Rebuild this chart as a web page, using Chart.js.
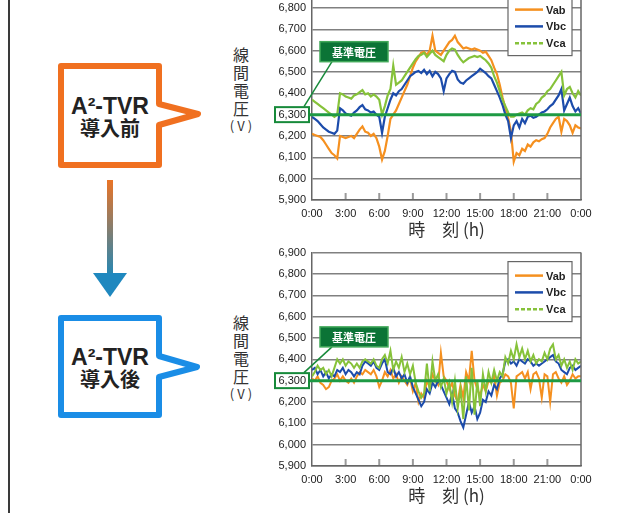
<!DOCTYPE html>
<html lang="ja">
<head>
<meta charset="utf-8">
<script src="https://cdn.jsdelivr.net/npm/chart.js@4.4.0/dist/chart.umd.min.js"></script>
<style>
  html, body { margin: 0; padding: 0; background: #fff; }
  body { width: 622px; height: 513px; position: relative; overflow: hidden; font-family: "Noto Sans CJK JP", sans-serif; }
  .frame { position: absolute; left: 8px; top: 0; width: 2px; height: 513px; background: #3a3a3a; }
  .chartBox { position: absolute; left: 260px; width: 340px; height: 266px; }
  .ylab { position: absolute; left: 226px; width: 30px; text-align: center; font-size: 16px; line-height: 18px; color: #333; }
  .ylab .unit { font-size: 13px; display: block; margin-left: -8px; width: 46px; letter-spacing: 3px; text-indent: 3px; }
  .badge { position: absolute; left: 58px; width: 104px; text-align: center; font-weight: bold; color: #222; white-space: nowrap; }
  .badge.en { font-family: "Liberation Sans", Arial, sans-serif; font-size: 23px; line-height: 24px; }
  .badge.jp { font-size: 20px; line-height: 22px; }
</style>
</head>
<body>
<div class="frame"></div>

<svg width="230" height="513" style="position:absolute;left:0;top:0">
  <defs>
    <linearGradient id="shaft" x1="0" y1="0" x2="0" y2="1">
      <stop offset="0" stop-color="#ea7426"/>
      <stop offset="1" stop-color="#2387b6"/>
    </linearGradient>
  </defs>
  <path d="M61,66 H159 V104 L198,114 L159,125 V165 H61 Z" fill="#fff" stroke="#f07020" stroke-width="6" stroke-linejoin="round"/>
  <rect x="107" y="180" width="6" height="96" fill="url(#shaft)"/>
  <path d="M93,273 L127,273 L110,297 Z" fill="#1f88bf"/>
  <path d="M61,318 H159 V356 L197,367 L159,377 V415 H61 Z" fill="#fff" stroke="#1a8de6" stroke-width="6" stroke-linejoin="round"/>
</svg>

<div class="badge en" style="top:94px">A²-TVR</div>
<div class="badge jp" style="top:117px">導入前</div>
<div class="badge en" style="top:345px">A²-TVR</div>
<div class="badge jp" style="top:368px">導入後</div>

<div class="ylab" style="top:45px">線<br>間<br>電<br>圧<span class="unit">(V)</span></div>
<div class="ylab" style="top:313px">線<br>間<br>電<br>圧<span class="unit">(V)</span></div>

<div class="chartBox" style="top:-26px"><canvas id="before"></canvas></div>
<div class="chartBox" style="top:240px"><canvas id="after"></canvas></div>

<script>
// time of day in hours, one sample per 15 minutes
const hours = [0,0.25,0.5,0.75,1,1.25,1.5,1.75,2,2.25,2.5,2.75,3,3.25,3.5,3.75,
  4,4.25,4.5,4.75,5,5.25,5.5,5.75,6,6.25,6.5,6.75,7,7.25,7.5,7.75,
  8,8.25,8.5,8.75,9,9.25,9.5,9.75,10,10.25,10.5,10.75,11,11.25,11.5,11.75,
  12,12.25,12.5,12.75,13,13.25,13.5,13.75,14,14.25,14.5,14.75,15,15.25,15.5,15.75,
  16,16.25,16.5,16.75,17,17.25,17.5,17.75,18,18.25,18.5,18.75,19,19.25,19.5,19.75,
  20,20.25,20.5,20.75,21,21.25,21.5,21.75,22,22.25,22.5,22.75,23,23.25,23.5,23.75,24];
const timeLabels = ["0:00","3:00","6:00","9:00","12:00","15:00","18:00","21:00","0:00"];
const seriesNames = ["Vab", "Vbc", "Vca"];
const baseVoltage = 6300;

// before A2-TVR
const beforeVab = [6210,6205,6200,6195,6180,6160,6140,6120,
  6110,6095,6200,6195,6190,6195,6200,6190,
  6210,6230,6245,6220,6215,6200,6210,6190,
  6150,6090,6130,6200,6280,6300,6320,6350,
  6380,6410,6440,6480,6520,6550,6570,6590,
  6595,6580,6600,6670,6600,6590,6580,6600,
  6620,6640,6650,6670,6640,6625,6610,6615,
  6610,6605,6610,6605,6600,6590,6595,6575,
  6555,6520,6490,6440,6380,6330,6285,6220,
  6080,6120,6110,6140,6130,6160,6150,6170,
  6180,6175,6185,6190,6210,6240,6260,6280,
  6290,6220,6280,6270,6250,6215,6250,6240,6235];
const beforeVbc = [6290,6280,6270,6255,6240,6230,6220,6215,
  6210,6225,6330,6320,6305,6300,6295,6310,
  6320,6335,6345,6325,6320,6310,6315,6300,
  6290,6215,6290,6330,6370,6400,6390,6410,
  6420,6440,6460,6480,6490,6500,6505,6495,
  6510,6490,6505,6480,6500,6490,6470,6410,
  6470,6490,6505,6500,6465,6450,6445,6460,
  6470,6480,6490,6500,6515,6505,6495,6480,
  6470,6440,6410,6380,6345,6300,6270,6190,
  6250,6270,6240,6280,6260,6290,6295,6285,
  6290,6300,6310,6315,6325,6340,6350,6370,
  6390,6420,6320,6350,6380,6340,6315,6330,6305];
const beforeVca = [6370,6360,6350,6340,6330,6320,6310,6300,
  6290,6300,6400,6395,6385,6380,6375,6390,
  6395,6405,6415,6395,6400,6385,6395,6385,
  6370,6300,6340,6390,6420,6530,6440,6450,
  6460,6480,6500,6520,6540,6560,6575,6580,
  6590,6570,6585,6600,6580,6570,6560,6550,
  6580,6600,6610,6605,6580,6560,6545,6555,
  6565,6570,6575,6570,6575,6565,6555,6540,
  6520,6480,6450,6410,6370,6340,6310,6290,
  6290,6300,6305,6310,6300,6320,6330,6325,
  6350,6360,6380,6390,6410,6420,6440,6460,
  6480,6500,6390,6420,6430,6400,6380,6410,6390];

// after A2-TVR
const afterVab = [6310,6300,6320,6290,6280,6260,6270,6300,
  6310,6330,6300,6320,6300,6290,6310,6290,
  6320,6340,6330,6350,6340,6330,6350,6320,
  6270,6300,6340,6320,6350,6310,6330,6290,
  6320,6300,6280,6310,6250,6290,6200,6240,
  6220,6300,6270,6330,6300,6280,6430,6320,
  6300,6260,6290,6230,6200,6280,6220,6340,
  6300,6440,6300,6260,6230,6280,6250,6300,
  6290,6320,6230,6290,6300,6330,6320,6290,
  6170,6320,6330,6340,6310,6340,6260,6330,
  6340,6310,6220,6330,6320,6200,6330,6340,
  6310,6290,6320,6280,6300,6330,6310,6320,6320];
const afterVbc = [6350,6360,6330,6350,6320,6340,6310,6330,
  6320,6350,6340,6360,6330,6350,6340,6320,
  6340,6330,6370,6390,6380,6370,6390,6360,
  6350,6380,6400,6340,6330,6360,6320,6340,
  6310,6330,6290,6320,6270,6240,6210,6180,
  6200,6260,6240,6290,6270,6300,6280,6250,
  6220,6190,6240,6170,6150,6110,6080,6140,
  6200,6150,6180,6120,6150,6210,6200,6250,
  6230,6280,6260,6310,6330,6390,6400,6380,
  6390,6370,6400,6390,6380,6400,6390,6370,
  6380,6370,6380,6390,6400,6410,6420,6390,
  6380,6350,6340,6330,6360,6370,6350,6360,6370];
const afterVca = [6320,6340,6370,6350,6360,6330,6350,6320,
  6360,6400,6380,6400,6370,6390,6380,6360,
  6380,6360,6390,6400,6390,6380,6400,6370,
  6360,6400,6420,6380,6440,6350,6390,6360,
  6410,6340,6380,6330,6370,6290,6250,6220,
  6240,6380,6250,6390,6300,6330,6270,6310,
  6240,6290,6200,6300,6170,6260,6120,6320,
  6160,6360,6140,6300,6180,6330,6250,6340,
  6290,6350,6300,6340,6320,6410,6380,6440,
  6400,6470,6410,6450,6400,6440,6390,6420,
  6380,6400,6390,6430,6400,6450,6470,6400,
  6420,6370,6400,6360,6390,6350,6400,6380,6390];

const colors = ["#f5901f", "#1c4cab", "#86c23a"];

Chart.defaults.font.family = '"Liberation Sans", Arial, sans-serif';
Chart.defaults.color = "#222";

const decor = {
    id: "decor",
    afterDatasetsDraw(chart, args, opts) {
        const { ctx, chartArea: a, scales: { x, y } } = chart;
        ctx.save();
        // right frame
        ctx.strokeStyle = "#666";
        ctx.lineWidth = 1.5;
        ctx.beginPath();
        ctx.moveTo(a.right, a.top);
        ctx.lineTo(a.right, a.bottom);
        ctx.stroke();
        // little marks above the time axis
        ctx.strokeStyle = "#9a9a9a";
        ctx.lineWidth = 2;
        for (let h = 3; h < 24; h += 3) {
            const px = x.getPixelForValue(h);
            ctx.beginPath();
            ctx.moveTo(px, a.bottom - 7);
            ctx.lineTo(px, a.bottom - 1);
            ctx.stroke();
        }
        // base voltage line + boxed tick
        const yb = y.getPixelForValue(baseVoltage);
        ctx.strokeStyle = "#1e9a44";
        ctx.lineWidth = 3;
        ctx.beginPath();
        ctx.moveTo(a.left - 3, yb);
        ctx.lineTo(a.right, yb);
        ctx.stroke();
        ctx.strokeStyle = "#178a3a";
        ctx.lineWidth = 2;
        ctx.strokeRect(a.left - 37, yb - 7.5, 34, 15);
        // label box
        const yc = y.getPixelForValue(opts.boxAt);
        ctx.beginPath();
        ctx.moveTo(a.left + 20, yc + 10);
        ctx.lineTo(a.left - 8, yb - 8);
        ctx.lineWidth = 1.5;
        ctx.stroke();
        ctx.fillStyle = "#0b7436";
        ctx.fillRect(a.left + 8, yc - 10, 68, 20);
        ctx.strokeStyle = "#42a95a";
        ctx.lineWidth = 1.5;
        ctx.strokeRect(a.left + 8, yc - 10, 68, 20);
        ctx.fillStyle = "#fff";
        ctx.font = 'bold 11px "Noto Sans CJK JP"';
        ctx.textAlign = "center";
        ctx.textBaseline = "middle";
        ctx.fillText("基準電圧", a.left + 42, yc + 1);
        // legend
        const lx = a.right - 73;
        ctx.fillStyle = "#fff";
        ctx.fillRect(lx, a.top + 9, 64, 60);
        ctx.strokeStyle = "#666";
        ctx.lineWidth = 1.2;
        ctx.strokeRect(lx, a.top + 9, 64, 60);
        chart.data.datasets.forEach((ds, i) => {
            const ly = a.top + 23 + i * 16.8;
            ctx.strokeStyle = ds.borderColor;
            ctx.lineWidth = 2.5;
            ctx.setLineDash(i === 2 ? [4, 2] : []);
            ctx.beginPath();
            ctx.moveTo(lx + 7, ly);
            ctx.lineTo(lx + 35, ly);
            ctx.stroke();
            ctx.setLineDash([]);
            ctx.fillStyle = "#222";
            ctx.font = 'bold 11px "Liberation Sans", Arial, sans-serif';
            ctx.textAlign = "left";
            ctx.fillText(ds.label, lx + 38, ly + 1);
        });
        ctx.restore();
    },
};

function makeChart(id, series, boxAt, width) {
    const ctx = document.getElementById(id).getContext("2d");
    return new Chart(ctx, {
        type: "line",
        data: {
            datasets: series.map((vals, i) => ({
                label: seriesNames[i],
                data: hours.map((h, k) => ({ x: h, y: vals[k] })),
                borderColor: colors[i],
                borderWidth: width,
                pointRadius: 0,
                tension: 0,
                order: 3 - i,
            })),
        },
        options: {
            responsive: true,
            maintainAspectRatio: false,
            animation: false,
            layout: { padding: { top: 10, right: 19, left: 0, bottom: 0 } },
            plugins: {
                legend: { display: false },
                tooltip: { enabled: false },
                decor: { boxAt: boxAt },
            },
            scales: {
                x: {
                    type: "linear",
                    min: 0,
                    max: 24,
                    afterFit: (s) => { s.height = 40; },
                    ticks: {
                        stepSize: 3,
                        padding: 7,
                        font: { size: 11 },
                        color: "#1a1a1a",
                        maxRotation: 0,
                        callback: (v) => timeLabels[v / 3],
                    },
                    grid: { display: false, drawTicks: false },
                    border: { display: true, color: "#666", width: 1.5 },
                    title: {
                        display: true,
                        text: "時　刻 (h)",
                        color: "#333",
                        padding: 0,
                        font: { family: '"Noto Sans CJK JP"', size: 17 },
                    },
                },
                y: {
                    min: 5900,
                    max: 6900,
                    afterFit: (s) => { s.width = 52; },
                    ticks: {
                        stepSize: 100,
                        padding: 6,
                        font: { size: 11 },
                        color: "#1a1a1a",
                        callback: (v) => v.toLocaleString("en-US"),
                    },
                    grid: { color: "#808080", lineWidth: 1.5, drawTicks: false },
                    border: { display: true, color: "#666", width: 1.5 },
                },
            },
        },
        plugins: [decor],
    });
}

makeChart("before", [beforeVab, beforeVbc, beforeVca], 6595, 2.2);
makeChart("after", [afterVab, afterVbc, afterVca], 6505, 2);
</script>
</body>
</html>
